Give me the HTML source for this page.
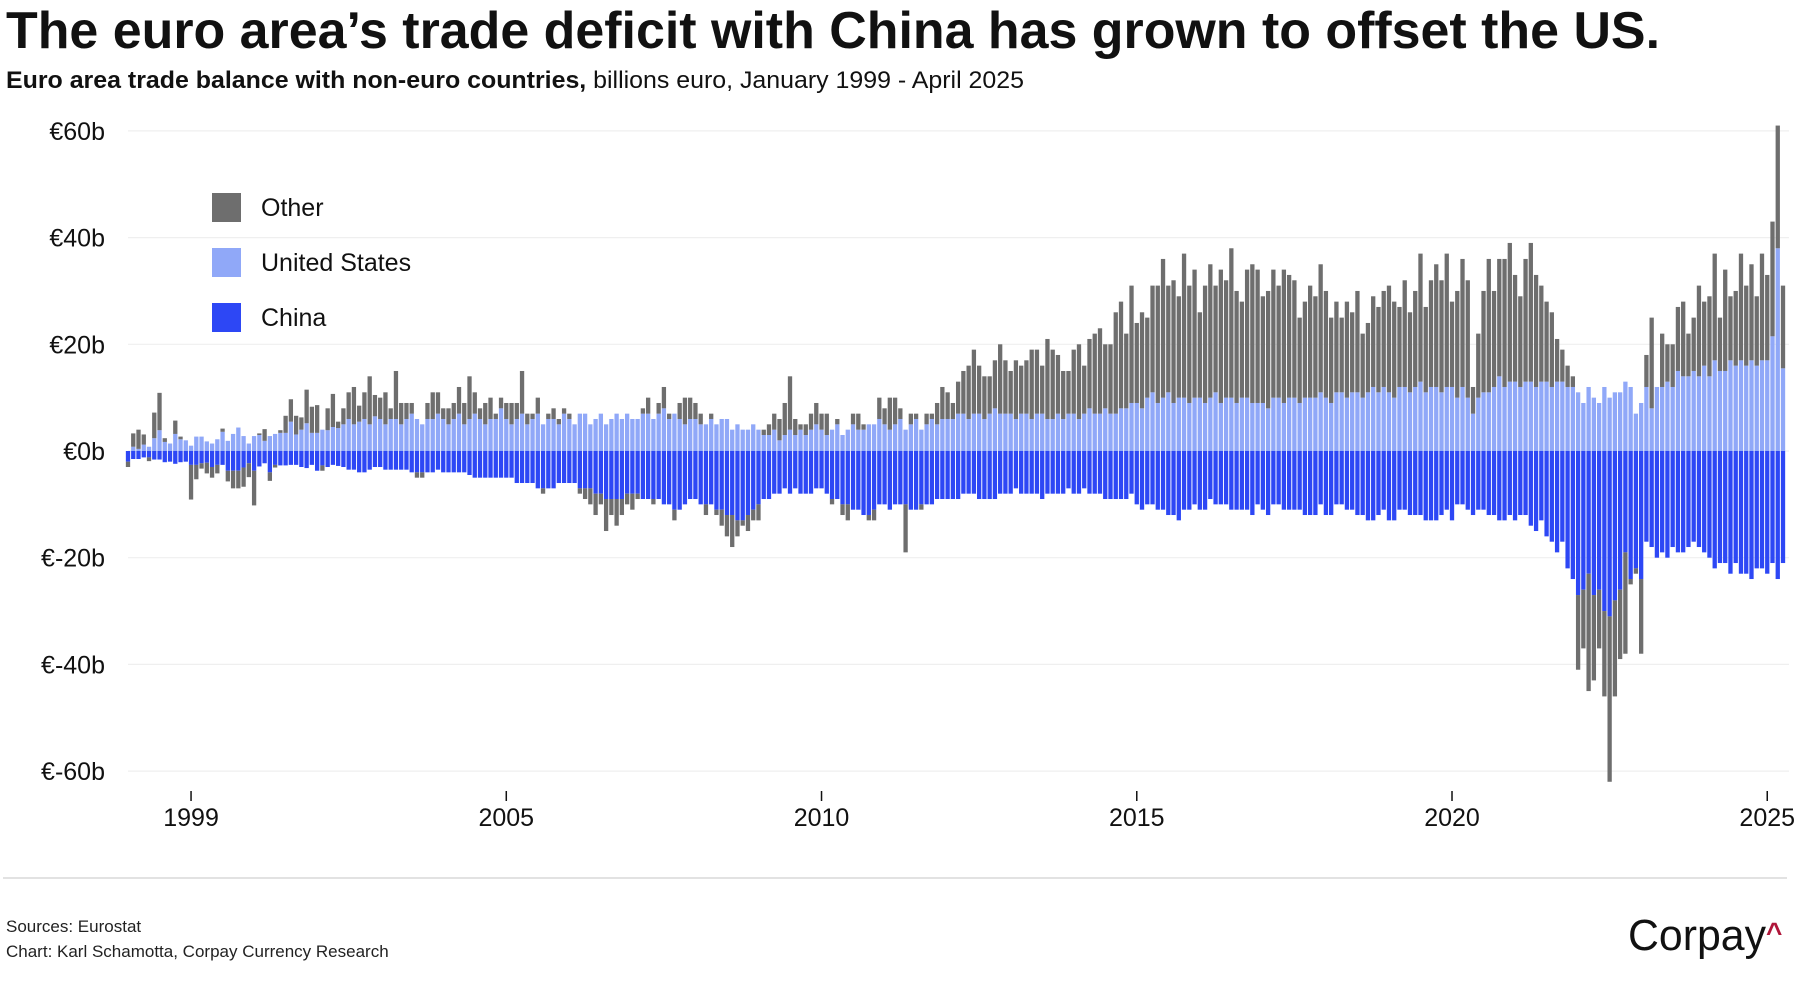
<!DOCTYPE html>
<html><head><meta charset="utf-8"><style>
html,body{margin:0;padding:0;background:#fff;}
svg{display:block;font-family:"Liberation Sans",sans-serif;}
</style></head><body>
<svg id="chart" width="1798" height="1000" viewBox="0 0 1798 1000" xmlns="http://www.w3.org/2000/svg">
<text x="6" y="48" font-size="52" font-weight="bold" fill="#111" textLength="1654" lengthAdjust="spacingAndGlyphs">The euro area’s trade deficit with China has grown to offset the US.</text>
<text x="6" y="88" font-size="24" fill="#111" textLength="1018" lengthAdjust="spacingAndGlyphs"><tspan font-weight="bold">Euro area trade balance with non-euro countries,</tspan> billions euro, January 1999 - April 2025</text>
<g id="grid"></g>
<g id="bars"></g>
<g id="xaxis"></g>
<g>
<rect x="212" y="193" width="29" height="29" fill="#6e6e6e"/>
<text x="261" y="216" font-size="25" fill="#111">Other</text>
<rect x="212" y="248" width="29" height="29" fill="#90a8f8"/>
<text x="261" y="271" font-size="25" fill="#111">United States</text>
<rect x="212" y="303" width="29" height="29" fill="#2d47f5"/>
<text x="261" y="326" font-size="25" fill="#111">China</text>
</g>
<line x1="3" y1="878" x2="1787" y2="878" stroke="#d8d8d8" stroke-width="1.5"/>
<text x="6" y="932" font-size="17" fill="#222">Sources: Eurostat</text>
<text x="6" y="957" font-size="17" fill="#222">Chart: Karl Schamotta, Corpay Currency Research</text>
<text x="1628" y="950" font-size="44" fill="#111" textLength="138" lengthAdjust="spacingAndGlyphs">Corpay</text>
<text x="1766" y="942" font-size="28" font-weight="bold" fill="#b0163a">^</text>
</svg>
<script>
const yTicks=[60,40,20,0,-20,-40,-60];
const yTickLabels=["€60b","€40b","€20b","€0b","€-20b","€-40b","€-60b"];
const xTickYears=[2000,2005,2010,2015,2020,2025];
const xTickLabels=["1999","2005","2010","2015","2020","2025"];
const startYear=1999;
const usBalance=[
0,0.8,0.4,1.2,0.8,2.4,3.9,1.7,1.4,3.2,2.2,2,
1,2.7,2.7,1.8,1.4,2.2,3.6,1.9,3.2,4.4,2.8,1.4,
2.8,3,1.9,2.8,3.2,3.4,3.4,5.5,3.1,4,5.2,3.4,
3.4,4,3.9,4.5,4.3,5,6,5,5.5,6,5,6.5,
6,5,6,6,5,6,7,6,5,6,6,7,
6,5,6,7,5,6,7,6,5,6,6,8,
6,5,6,7,5,6,7,5,6,6,5,7,
6,5,7,7,5,6,7,5,6,7,6,7,
6,6,7,7,6,7,8,6,7,6,5,6,
6,5,5,6,5,6,6,4,5,4,4,5,
4,3,3,4,2,3,4,3,4,3,4,5,
4,3,4,5,3,4,5,4,4,5,5,6,
5,4,5,6,4,5,6,4,5,6,5,6,
6,6,7,7,6,7,7,6,7,8,7,7,
7,6,7,7,6,7,7,6,6,7,6,7,
7,6,7,8,7,7,8,7,7,8,8,9,
9,8,10,11,9,10,11,9,10,10,9,10,
10,9,10,11,9,10,10,9,10,10,9,9,
9,8,10,10,9,10,10,9,10,10,10,11,
10,9,11,11,10,11,11,10,11,12,11,12,
11,10,12,12,11,12,13,11,12,12,11,12,
12,10,12,10,7,10,11,11,12,14,12,13,
13,12,13,13,12,13,13,12,13,13,12,12,
11,9,12,10,9,12,10,11,11,13,12,7,
9,12,8,12,12,13,12,15,14,14,15,14,
16,14,17,15,15,17,16,17,16,17,16,17,
17,21.5,38,15.5];
const chinaBalance=[
-2,-1.5,-1.5,-1.2,-1.2,-1.6,-1.6,-2.1,-2,-2.4,-2.1,-2,
-2.6,-2.6,-2.3,-2.2,-3,-2.6,-2.6,-3.7,-3.7,-3.7,-3.1,-2.3,
-3.7,-2.9,-2.3,-4,-2.6,-2.7,-2.7,-2.6,-2.6,-3,-3.2,-2.6,
-3.7,-2.7,-3,-2.6,-2.8,-3,-3.5,-3.5,-4,-4,-3.5,-3,
-3,-3.5,-3.5,-3.5,-3.5,-3.5,-4,-4,-4,-4,-4,-3.5,
-4,-4,-4,-4,-4,-4.5,-5,-5,-5,-5,-5,-5,
-5,-5,-6,-6,-6,-6,-7,-7,-7,-7,-6,-6,
-6,-6,-7,-7,-7,-8,-8,-9,-9,-9,-9,-8,
-8,-8,-9,-9,-9,-9,-10,-10,-11,-11,-10,-9,
-9,-10,-10,-10,-11,-11,-12,-12,-13,-13,-12,-11,
-10,-9,-9,-8,-8,-7,-8,-7,-8,-8,-8,-7,
-7,-8,-9,-9,-10,-10,-11,-11,-12,-12,-11,-10,
-10,-11,-10,-10,-10,-11,-11,-10,-10,-10,-9,-9,
-9,-9,-9,-8,-8,-8,-9,-9,-9,-9,-8,-8,
-8,-7,-8,-8,-8,-8,-9,-8,-8,-8,-8,-7,
-8,-8,-7,-8,-8,-8,-9,-9,-9,-9,-9,-8,
-10,-11,-10,-10,-11,-11,-12,-12,-13,-11,-11,-10,
-11,-11,-9,-10,-10,-10,-11,-11,-11,-11,-12,-10,
-11,-12,-10,-10,-11,-11,-11,-11,-12,-12,-12,-10,
-12,-12,-10,-10,-11,-11,-12,-12,-13,-13,-12,-11,
-13,-13,-11,-11,-12,-12,-12,-13,-13,-13,-12,-11,
-13,-10,-10,-11,-12,-11,-11,-12,-12,-13,-13,-12,
-13,-12,-12,-14,-15,-13,-16,-17,-19,-17,-22,-24,
-27,-26,-23,-27,-26,-30,-31,-28,-26,-19,-24,-22,
-24,-17,-18,-20,-19,-20,-18,-19,-19,-18,-17,-18,
-19,-20,-22,-21,-21,-23,-21,-23,-23,-24,-22,-22,
-23,-21,-24,-21];
const otherBalance=[
-1,2.5,3.6,1.9,-0.7,4.8,7,0.7,0,2.5,0.5,0,
-6.5,-2.7,-1,-2,-2,-1.6,0.6,-2,-3.3,-3.3,-3.6,-2.6,
-6.5,0.3,2.2,-1.6,-0.5,0.5,3.2,4.2,3.5,2.3,6.3,4.9,
5.2,-1,4.1,6.2,1.2,3,5,7,3,5,9,4,
4,6,2,9,4,3,2,-1,-1,3,5,4,
2,3,3,5,4,8,4,2,4,4,1,2,
3,4,3,8,2,1,3,-1,1,2,1,1,
1,0,-1,-2,-3,-4,-2,-6,-3,-5,-3,-2,
-3,-1,1,3,-1,2,4,1,-2,3,5,4,
3,2,-2,1,-1,-3,-4,-6,-3,-1,-3,-2,
-3,1,2,3,4,6,10,3,1,2,3,4,
3,4,-1,1,-2,-3,2,3,1,-1,-2,4,
3,6,5,2,-9,2,1,-1,2,1,4,6,
5,3,6,8,10,12,9,8,7,9,13,10,
8,11,9,10,13,12,9,15,13,11,9,8,
12,14,9,13,15,16,12,13,19,20,14,22,
15,18,15,20,22,26,20,23,19,27,22,24,
16,22,25,20,25,22,28,21,18,24,26,25,
20,22,24,21,25,23,22,16,18,21,19,24,
20,16,17,14,18,15,19,12,13,17,16,18,
20,18,15,20,15,18,24,16,20,23,21,25,
16,20,24,22,5,12,19,25,18,22,24,26,
20,17,23,26,21,18,15,14,8,6,4,2,
-14,-11,-22,-16,-11,-16,-31,-18,-13,-19,-1,-1,
-14,6,17,0,10,7,8,12,14,8,10,17,
12,15,20,10,19,12,14,20,15,18,13,20,
16,21.5,23,15.5];
const NS="http://www.w3.org/2000/svg";
const x0=128,step=5.254,y0=451,pxPerB=106.7/20;
function xScale(i){return x0+i*step;}
function yScale(v){return y0-v*pxPerB;}
const grid=document.getElementById('grid');
yTicks.forEach((t,k)=>{
  const ln=document.createElementNS(NS,'line');
  
  
  ln.setAttribute('x1',128);ln.setAttribute('x2',1789);
  ln.setAttribute('y1',yScale(t));ln.setAttribute('y2',yScale(t));
  ln.setAttribute('stroke','#efefef');ln.setAttribute('stroke-width','1.2');
  grid.appendChild(ln);
  const tx=document.createElementNS(NS,'text');
  
  
  tx.setAttribute('x',105);tx.setAttribute('y',yScale(t)+9);
  tx.setAttribute('text-anchor','end');tx.setAttribute('font-size','25');tx.setAttribute('fill','#111');
  tx.textContent=yTickLabels[k];
  grid.appendChild(tx);
});
const bars=document.getElementById('bars');
const bw=4.3;
function addRect(i,a,b,color,name){
  const r=document.createElementNS(NS,'rect');
  
  
  const top=Math.min(yScale(a),yScale(b)),h=Math.abs(yScale(a)-yScale(b));
  r.setAttribute('x',xScale(i)-bw/2);r.setAttribute('y',top);
  r.setAttribute('width',bw);r.setAttribute('height',h);
  r.setAttribute('fill',color);
  bars.appendChild(r);
}
for(let i=0;i<usBalance.length;i++){
  const us=usBalance[i],cn=chinaBalance[i],ot=otherBalance[i];
  addRect(i,0,us,'#90a8f8','bar-us');
  addRect(i,0,cn,'#2d47f5','bar-china');
  if(ot>=0) addRect(i,us,us+ot,'#6e6e6e','bar-other');
  else addRect(i,cn,cn+ot,'#6e6e6e','bar-other');
}
const xa=document.getElementById('xaxis');
xTickYears.forEach((yr,k)=>{
  const xi=xScale((yr-startYear)*12);
  const ln=document.createElementNS(NS,'line');
  
  
  ln.setAttribute('x1',xi);ln.setAttribute('x2',xi);ln.setAttribute('y1',791);ln.setAttribute('y2',801);
  ln.setAttribute('stroke','#111');ln.setAttribute('stroke-width','1.5');
  xa.appendChild(ln);
  const tx=document.createElementNS(NS,'text');
  
  
  tx.setAttribute('x',xi);tx.setAttribute('y',826);
  tx.setAttribute('text-anchor','middle');tx.setAttribute('font-size','25');tx.setAttribute('fill','#111');
  tx.textContent=xTickLabels[k];
  xa.appendChild(tx);
});
</script>
</body></html>
